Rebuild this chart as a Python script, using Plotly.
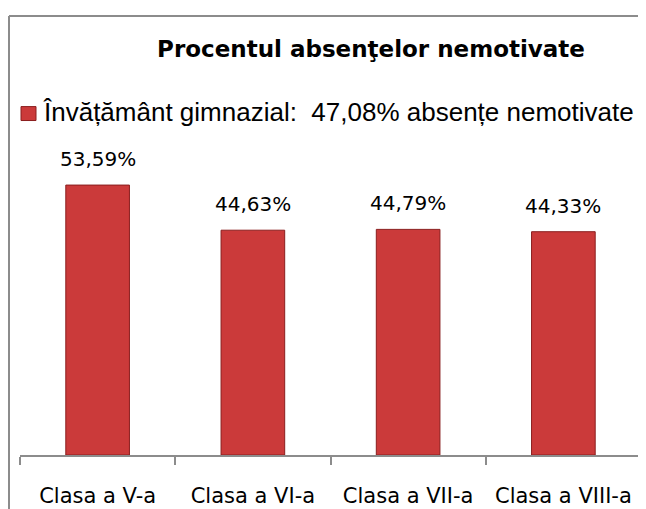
import plotly.graph_objects as go

categories = ["Clasa a V-a", "Clasa a VI-a", "Clasa a VII-a", "Clasa a VIII-a"]
values = [53.59, 44.63, 44.79, 44.33]
series_name = "Învățământ gimnazial:\u00a0\u00a047,08% absențe nemotivate"
title_text = "Procentul absenţelor nemotivate"

W, H = 646, 509
OFF = 8  # page body margin offset
# plot area in screen pixels
SL, SR, ST, SB = 20, 641, 17, 457
L, R, T, B = SL - OFF, SR - OFF, ST - OFF, SB - OFF


def px(x):
    return (x - OFF - L) / (R - L)


def py(y):
    return (B - (y - OFF)) / (B - T)


labels = [f"{v:.2f}".replace(".", ",") + "%" for v in values]

BAR = "#CB3A3A"
EDGE = "#8A1E1E"
GRID = "#8C8C8C"

fig = go.Figure()
fig.add_trace(go.Bar(
    x=categories, y=values, name=series_name,
    marker=dict(color=BAR, line=dict(color=EDGE, width=1)),
    showlegend=False, hoverinfo="skip",
))

for c, v, t in zip(categories, values, labels):
    fig.add_annotation(x=c, y=v, text=t, showarrow=False, yanchor="bottom",
                       yshift=12, font=dict(family="DejaVu Sans", size=20, color="#000"))

# legend (manual)
fig.add_shape(type="rect", xref="paper", yref="paper",
              x0=px(21), x1=px(36), y0=py(121), y1=py(107),
              fillcolor=BAR, line=dict(color=EDGE, width=1))
fig.add_annotation(xref="paper", yref="paper", x=px(41), y=py(112),
                   xanchor="left", yanchor="middle", showarrow=False,
                   text=series_name,
                   font=dict(family="Liberation Sans", size=26, color="#000"))

# chart frame (left and top edges visible)
fig.add_shape(type="line", xref="paper", yref="paper",
              x0=px(9), x1=px(700), y0=py(16), y1=py(16),
              line=dict(color=GRID, width=2))
fig.add_shape(type="line", xref="paper", yref="paper",
              x0=px(9), x1=px(9), y0=py(16), y1=py(600),
              line=dict(color=GRID, width=2))

fig.update_layout(
    width=W, height=H,
    margin=dict(l=L, r=W - R, t=T, b=H - B),
    paper_bgcolor="white", plot_bgcolor="white",
    bargap=0.59,
    title=dict(text="<b>" + title_text + "</b>", xref="container", yref="container",
               x=(371 - OFF) / W, y=1 - (49 - OFF) / H, xanchor="center", yanchor="middle",
               font=dict(family="DejaVu Sans", size=23, color="#000")),
    xaxis=dict(showline=True, linecolor=GRID, linewidth=1.5,
               ticks="outside", tickson="boundaries", ticklen=8, tickcolor=GRID, tickwidth=1.5,
               ticklabelstandoff=21,
               tickfont=dict(family="DejaVu Sans", size=21, color="#000"),
               showgrid=False, fixedrange=True),
    yaxis=dict(range=[0, (B - T) / 5.06], visible=False, showgrid=False, fixedrange=True),
)

fig.write_html("out.html")
